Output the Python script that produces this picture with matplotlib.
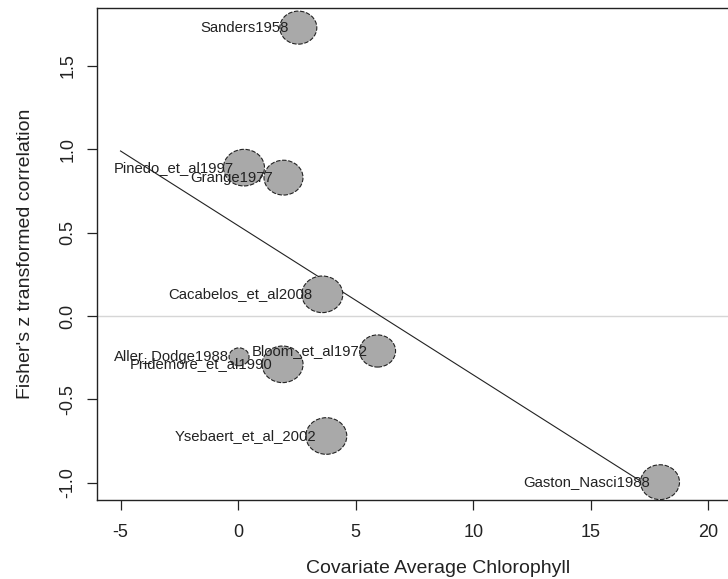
import matplotlib.pyplot as plt
from matplotlib.path import Path
from matplotlib.transforms import Affine2D

plt.rcParams['font.family'] = ['Liberation Sans', 'DejaVu Sans']

studies = ['Sanders1958', 'Pinedo_et_al1997', 'Grange1977', 'Cacabelos_et_al2008',
           'Aller_Dodge1988', 'Pridemore_et_al1990', 'Bloom_et_al1972',
           'Ysebaert_et_al_2002', 'Gaston_Nasci1988']
chlorophyll = [2.56, 0.25, 1.93, 3.58, 0.04, 1.89, 5.93, 3.75, 17.94]
fisher_z = [1.73, 0.89, 0.83, 0.13, -0.245, -0.29, -0.21, -0.72, -0.997]
# bubble widths, in pixels
bubble_px = [37, 41, 39, 41, 20, 41, 36, 41, 39]

fit_x = [-5, 18]
fit_y = [0.99, -1.07]

x_ticks = [-5, 0, 5, 10, 15, 20]
y_ticks = [-1.0, -0.5, 0.0, 0.5, 1.0, 1.5]

fig = plt.figure(figsize=(7.28, 5.79), dpi=100)
ax = fig.add_axes([97 / 728, 79 / 579, (779 - 97) / 728, (500 - 8.3) / 579])
ax.set_xlim(-6.0, 23.0)
ax.set_ylim(-1.104, 1.846)

# bubbles look a little wider than tall in the picture
ellipse = Affine2D().scale(1.12, 1.0).transform_path(Path.unit_circle())

ax.axhline(0, color='#d6d6d6', lw=1.0, zorder=1)
ax.plot(fit_x, fit_y, color='#222222', lw=0.8, zorder=2)
ax.scatter(chlorophyll, fisher_z, s=[(w * 0.72) ** 2 for w in bubble_px],
           marker=ellipse, facecolor='#a9a9a9', edgecolor='#222222',
           linewidths=0.8, linestyle=(0, (4, 1.5)), zorder=3)

for name, x, y in zip(studies, chlorophyll, fisher_z):
    ax.annotate(name, (x, y), xytext=(-10, 0), textcoords='offset pixels',
                ha='right', va='center', fontsize=10.7, color='#222222', zorder=4)

ax.set_xticks(x_ticks)
ax.set_xticklabels([str(t) for t in x_ticks])
ax.set_yticks(y_ticks)
ax.set_yticklabels([f'{t:.1f}' for t in y_ticks], rotation=90, va='center')
ax.tick_params(direction='out', length=7, width=0.9, labelsize=13,
               colors='#222222', pad=10)
ax.tick_params(axis='y', pad=8)
for sp in ax.spines.values():
    sp.set_linewidth(1.0)
    sp.set_color('#222222')

ax.set_xlabel('Covariate Average Chlorophyll', fontsize=14, color='#222222', labelpad=14)
ax.set_ylabel("Fisher's z transformed correlation", fontsize=14, color='#222222', labelpad=18)

fig.savefig('out.png', dpi=100)
